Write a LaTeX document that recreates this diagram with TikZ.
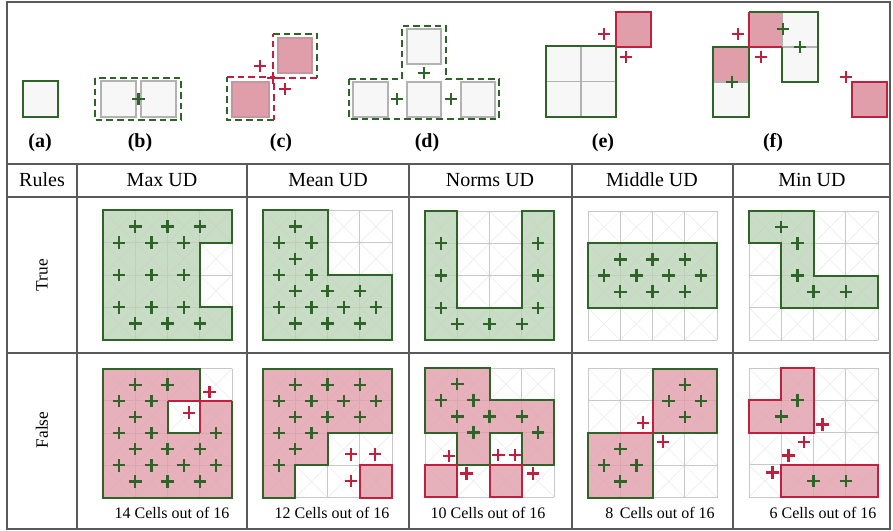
\documentclass[tikz,border=0pt]{standalone}
\usepackage{fontspec}
\setmainfont{Liberation Serif}

\definecolor{udgreen}{RGB}{46,100,40}
\definecolor{udred}{RGB}{192,32,62}
\definecolor{greenfill}{RGB}{188,211,182}
\definecolor{pinkfill}{RGB}{224,158,170}
\definecolor{pinkedge}{RGB}{196,150,158}
\definecolor{cellfill}{RGB}{247,247,247}
\definecolor{cellgrey}{RGB}{178,178,178}
\definecolor{gridgrey}{RGB}{200,200,200}
\definecolor{diaggrey}{RGB}{236,236,236}
\definecolor{tabgrey}{RGB}{90,90,90}

% 4x4 lattice of one unit cell diagram
\newcommand{\celllattice}{%
  \foreach \i in {0,...,3}{\foreach \j in {0,...,3}{\draw[diag line] (\i,\j) -- ++(1,1) (\i+1,\j) -- ++(-1,1);}}%
  \foreach \i in {0,...,4}{\draw[grid line] (\i,0) -- (\i,4) (0,\i) -- (4,\i);}%
}

\begin{document}
\begin{tikzpicture}[x=0.75pt,y=0.75pt,yscale=-1,xscale=1,
  rule line/.style={draw=tabgrey, line width=0.8pt},
  cell box/.style={fill=cellfill, draw=cellgrey, line width=0.8pt},
  pink box/.style={fill=pinkfill, draw=pinkedge, line width=0.8pt},
  dash box/.style={line width=1.5pt, dash pattern=on 5pt off 3pt},
  green edge/.style={draw=udgreen, line width=1.5pt},
  red edge/.style={draw=udred, line width=1.5pt},
  green area/.style={fill=greenfill, fill opacity=0.8, green edge, line join=miter},
  pink area/.style={fill=pinkfill, fill opacity=0.8, green edge, line join=miter},
  red area/.style={fill=pinkfill, fill opacity=0.8, red edge, line join=miter},
  grid line/.style={draw=gridgrey, line width=0.6pt},
  diag line/.style={draw=diaggrey, line width=0.5pt},
  gplus/.style={draw=udgreen, line width=1.7pt},
  rplus/.style={draw=udred, line width=1.7pt},
  head/.style={inner sep=0.75pt, font=\fontsize{15}{18}\selectfont},
  panel/.style={inner sep=0.75pt, font=\fontsize{15}{18}\selectfont\bfseries},
  count/.style={inner sep=0.75pt, font=\fontsize{12}{14}\selectfont},
  ]
  \useasboundingbox (0,0) rectangle (893,531);

  %Table frame
  \draw[rule line] (7,2) rectangle (890,529);
  \draw[rule line] (7,164) -- (890,164) (7,197) -- (890,197) (7,353) -- (890,353);
  \foreach \cx in {77,247,409,572,733} \draw[rule line] (\cx,164) -- (\cx,529);

  %Shape (a): single cell
  \filldraw[fill=cellfill, green edge] (23,81) rectangle (58,117);

  %Shape (b): two cells joined
  \filldraw[cell box] (101,81) rectangle (136,117);
  \filldraw[cell box] (141,81) rectangle (176,117);
  \draw[dash box, draw=udgreen] (95,78) rectangle (181,120);
  \draw[gplus] (138.5,99) +(-4.7pt,0) -- +(4.7pt,0) +(0,-4.7pt) -- +(0,4.7pt);

  %Shape (c): diagonal neighbours
  \filldraw[pink box] (232,82) rectangle (269,117);
  \filldraw[pink box] (278,38) rectangle (312,73);
  \draw[dash box, draw=udgreen] (274,120) -- (227,120) -- (227,77);
  \draw[dash box, draw=udred] (227,77) -- (274,77) -- (274,120);
  \draw[dash box, draw=udred] (317,78) -- (273,78) -- (273,34);
  \draw[dash box, draw=udgreen] (273,34) -- (317,34) -- (317,78);
  \foreach \u/\v in {260/66,273/78,285/89}
    \draw[rplus] (\u,\v) +(-4.7pt,0) -- +(4.7pt,0) +(0,-4.7pt) -- +(0,4.7pt);

  %Shape (d): T of four cells
  \filldraw[cell box] (407,29) rectangle (441,64);
  \filldraw[cell box] (353,82) rectangle (388,117);
  \filldraw[cell box] (407,82) rectangle (441,117);
  \filldraw[cell box] (461,82) rectangle (495,117);
  \draw[dash box, draw=udgreen] (349,79) -- (402,79) -- (402,26) -- (446,26) -- (446,79) -- (499,79) -- (499,119) -- (349,119) -- cycle;
  \foreach \u/\v in {424/73,397/99,451/99}
    \draw[gplus] (\u,\v) +(-4.7pt,0) -- +(4.7pt,0) +(0,-4.7pt) -- +(0,4.7pt);

  %Shape (e): block and corner cell
  \fill[cellfill] (546,46) rectangle (616,117);
  \draw[draw=cellgrey, line width=0.8pt] (581,46) -- (581,117) (546,81.5) -- (616,81.5);
  \draw[green edge] (546,46) rectangle (616,117);
  \filldraw[fill=pinkfill, red edge] (616,12) rectangle (651,47);
  \foreach \u/\v in {604/34,626/57}
    \draw[rplus] (\u,\v) +(-4.7pt,0) -- +(4.7pt,0) +(0,-4.7pt) -- +(0,4.7pt);

  %Shape (f): staircase and lone cell
  \fill[cellfill] (713,82) rectangle (749,117) (782,12) rectangle (818,82);
  \fill[pinkfill] (713,47) rectangle (749,82) (749,12) rectangle (782,47);
  \draw[draw=cellgrey, line width=0.8pt] (713,82) -- (749,82) (782,47) -- (818,47) (782,12) -- (782,47);
  \draw[green edge] (713,47) rectangle (749,117);
  \draw[green edge] (749,12) -- (818,12) -- (818,82) -- (782,82) -- (782,47);
  \draw[red edge] (782,47) -- (749,47) -- (749,12);
  \filldraw[fill=pinkfill, red edge] (852,82) rectangle (887,117);
  \foreach \u/\v in {783/29,800/47,732/82}
    \draw[gplus] (\u,\v) +(-4.7pt,0) -- +(4.7pt,0) +(0,-4.7pt) -- +(0,4.7pt);
  \foreach \u/\v in {738/34,761/57,846/77}
    \draw[rplus] (\u,\v) +(-4.7pt,0) -- +(4.7pt,0) +(0,-4.7pt) -- +(0,4.7pt);

  % Text Node
  \node[panel] (capa) at (40,143) {(a)};
  \node[panel] (capb) at (140,143) {(b)};
  \node[panel] (capc) at (281,143) {(c)};
  \node[panel] (capd) at (427,143) {(d)};
  \node[panel] (cape) at (603,143) {(e)};
  \node[panel] (capf) at (773,143) {(f)};

  % Header row
  \node[head] (hrules) at (42,180) {Rules};
  \node[head] (hmax) at (162,180) {Max UD};
  \node[head] (hmean) at (328,180) {Mean UD};
  \node[head] (hnorms) at (490,180) {Norms UD};
  \node[head] (hmiddle) at (652,180) {Middle UD};
  \node[head] (hmin) at (812,180) {Min UD};
  \node[head, rotate=90, font=\fontsize{13}{15}\selectfont] (htrue) at (42,275) {True};
  \node[head, rotate=90, font=\fontsize{13}{15}\selectfont] (hfalse) at (42,430) {False};

  %True / Max UD
  \begin{scope}[shift={(103,210.5)},x=24.2pt,y=24.2pt]
    \celllattice
    \filldraw[green area] (0,0) -- (4,0) -- (4,1) -- (3,1) -- (3,3) -- (4,3) -- (4,4) -- (0,4) -- cycle;
    \foreach \u/\v in {1/0.5,2/0.5,3/0.5,0.5/1,1.5/1,2.5/1,0.5/2,1.5/2,2.5/2,0.5/3,1.5/3,2.5/3,1/3.5,2/3.5,3/3.5}
      \draw[gplus] (\u,\v) +(-4.7pt,0) -- +(4.7pt,0) +(0,-4.7pt) -- +(0,4.7pt);
  \end{scope}

  %True / Mean UD
  \begin{scope}[shift={(263,210.5)},x=24.2pt,y=24.2pt]
    \celllattice
    \filldraw[green area] (0,0) -- (2,0) -- (2,2) -- (4,2) -- (4,4) -- (0,4) -- cycle;
    \foreach \u/\v in {1/0.5,0.5/1,1.5/1,1/1.5,0.5/2,1.5/2,1/2.5,2/2.5,3/2.5,0.5/3,1.5/3,2.5/3,3.5/3,1/3.5,2/3.5,3/3.5}
      \draw[gplus] (\u,\v) +(-4.7pt,0) -- +(4.7pt,0) +(0,-4.7pt) -- +(0,4.7pt);
  \end{scope}

  %True / Norms UD
  \begin{scope}[shift={(425,211)},x=24.2pt,y=24.2pt]
    \celllattice
    \filldraw[green area] (0,0) -- (1,0) -- (1,3) -- (3,3) -- (3,0) -- (4,0) -- (4,4) -- (0,4) -- cycle;
    \foreach \u/\v in {0.5/1,0.5/2,0.5/3,1/3.5,2/3.5,3/3.5,3.5/1,3.5/2,3.5/3}
      \draw[gplus] (\u,\v) +(-4.7pt,0) -- +(4.7pt,0) +(0,-4.7pt) -- +(0,4.7pt);
  \end{scope}

  %True / Middle UD
  \begin{scope}[shift={(588,211)},x=24.2pt,y=24.2pt]
    \celllattice
    \filldraw[green area] (0,1) rectangle (4,3);
    \foreach \u/\v in {1/1.5,2/1.5,3/1.5,0.5/2,1.5/2,2.5/2,3.5/2,1/2.5,2/2.5,3/2.5}
      \draw[gplus] (\u,\v) +(-4.7pt,0) -- +(4.7pt,0) +(0,-4.7pt) -- +(0,4.7pt);
  \end{scope}

  %True / Min UD
  \begin{scope}[shift={(749,211)},x=24.2pt,y=24.2pt]
    \celllattice
    \filldraw[green area] (0,0) -- (2,0) -- (2,2) -- (4,2) -- (4,3) -- (1,3) -- (1,1) -- (0,1) -- cycle;
    \foreach \u/\v in {1/0.5,1.5/1,1.5/2,2/2.5,3/2.5}
      \draw[gplus] (\u,\v) +(-4.7pt,0) -- +(4.7pt,0) +(0,-4.7pt) -- +(0,4.7pt);
  \end{scope}

  %False / Max UD
  \begin{scope}[shift={(103,368.5)},x=24.2pt,y=24.2pt]
    \celllattice
    \fill[pinkfill, fill opacity=0.8, even odd rule] (0,0) -- (3,0) -- (3,1) -- (4,1) -- (4,4) -- (0,4) -- cycle (2,1) rectangle (3,2);
    \draw[green edge] (3,1) -- (3,0) -- (0,0) -- (0,4) -- (4,4) -- (4,1);
    \draw[green edge] (2,1) -- (2,2) -- (3,2);
    \draw[red edge] (2,1) -- (4,1) (3,1) -- (3,2);
    \foreach \u/\v in {1/0.5,2/0.5,0.5/1,1.5/1,1/1.5,0.5/2,1.5/2,3.5/2,1/2.5,2/2.5,3/2.5,0.5/3,1.5/3,2.5/3,3.5/3,1/3.5,2/3.5,3/3.5}
      \draw[gplus] (\u,\v) +(-4.7pt,0) -- +(4.7pt,0) +(0,-4.7pt) -- +(0,4.7pt);
    \foreach \u/\v in {3.3/0.73,2.66/1.37}
      \draw[rplus] (\u,\v) +(-4.7pt,0) -- +(4.7pt,0) +(0,-4.7pt) -- +(0,4.7pt);
  \end{scope}

  %False / Mean UD
  \begin{scope}[shift={(263,368.5)},x=24.2pt,y=24.2pt]
    \celllattice
    \filldraw[pink area] (0,0) -- (4,0) -- (4,2) -- (2,2) -- (2,3) -- (1,3) -- (1,4) -- (0,4) -- cycle;
    \filldraw[red area] (3,3) rectangle (4,4);
    \foreach \u/\v in {1/0.5,2/0.5,3/0.5,0.5/1,1.5/1,2.5/1,3.5/1,1/1.5,2/1.5,3/1.5,0.5/2,1.5/2,1/2.5,0.5/3}
      \draw[gplus] (\u,\v) +(-4.7pt,0) -- +(4.7pt,0) +(0,-4.7pt) -- +(0,4.7pt);
    \foreach \u/\v in {2.73/2.66,3.47/2.66,2.73/3.49}
      \draw[rplus] (\u,\v) +(-4.7pt,0) -- +(4.7pt,0) +(0,-4.7pt) -- +(0,4.7pt);
  \end{scope}

  %False / Norms UD
  \begin{scope}[shift={(425,368)},x=24.2pt,y=24.2pt]
    \celllattice
    \filldraw[pink area] (0,0) -- (2,0) -- (2,1) -- (4,1) -- (4,3) -- (3,3) -- (3,2) -- (2,2) -- (2,3) -- (1,3) -- (1,2) -- (0,2) -- cycle;
    \filldraw[red area] (0,3) rectangle (1,4);
    \filldraw[red area] (2,3) rectangle (3,4);
    \foreach \u/\v in {1/0.5,0.5/1,1.5/1,1/1.5,2/1.5,3/1.5,1.5/2,3.5/2}
      \draw[gplus] (\u,\v) +(-4.7pt,0) -- +(4.7pt,0) +(0,-4.7pt) -- +(0,4.7pt);
    \foreach \u/\v in {0.74/2.73,1.29/3.27,2.27/2.7,2.79/2.7,3.34/3.27}
      \draw[rplus] (\u,\v) +(-4.7pt,0) -- +(4.7pt,0) +(0,-4.7pt) -- +(0,4.7pt);
  \end{scope}

  %False / Middle UD
  \begin{scope}[shift={(588,368.5)},x=24.2pt,y=24.2pt]
    \celllattice
    \fill[pinkfill, fill opacity=0.8] (2,0) rectangle (4,2) (0,2) rectangle (2,4);
    \draw[green edge] (2,1) -- (2,0) -- (4,0) -- (4,2) -- (2,2) -- (2,4) -- (0,4) -- (0,2) -- (1,2);
    \draw[red edge] (2,1) -- (2,2) -- (1,2);
    \foreach \u/\v in {3/0.5,2.5/1,3.5/1,3/1.5,1/2.5,0.5/3,1.5/3,1/3.5}
      \draw[gplus] (\u,\v) +(-4.7pt,0) -- +(4.7pt,0) +(0,-4.7pt) -- +(0,4.7pt);
    \foreach \u/\v in {1.71/1.68,2.32/2.27}
      \draw[rplus] (\u,\v) +(-4.7pt,0) -- +(4.7pt,0) +(0,-4.7pt) -- +(0,4.7pt);
  \end{scope}

  %False / Min UD
  \begin{scope}[shift={(749,368)},x=24.2pt,y=24.2pt]
    \celllattice
    \filldraw[red area] (1,0) -- (2,0) -- (2,2) -- (0,2) -- (0,1) -- (1,1) -- cycle;
    \filldraw[red area] (1,3) rectangle (4,4);
    \foreach \u/\v in {1.5/1,1/1.5,2/3.5,3/3.5}
      \draw[gplus] (\u,\v) +(-4.7pt,0) -- +(4.7pt,0) +(0,-4.7pt) -- +(0,4.7pt);
    \foreach \u/\v in {2.28/1.75,1.71/2.29,1.22/2.71,0.73/3.24}
      \draw[rplus] (\u,\v) +(-4.7pt,0) -- +(4.7pt,0) +(0,-4.7pt) -- +(0,4.7pt);
  \end{scope}

  % Counts below the False row
  \node[count] (nmax) at (172,513) {14 Cells out of 16};
  \node[count] (nmean) at (332,513) {12 Cells out of 16};
  \node[count] (nnorms) at (488,513) {10 Cells out of 16};
  \node[count] (nmiddle) at (660,513) {8\, Cells out of 16};
  \node[count] (nmin) at (823,513) {6 Cells out of 16};

\end{tikzpicture}
\end{document}
